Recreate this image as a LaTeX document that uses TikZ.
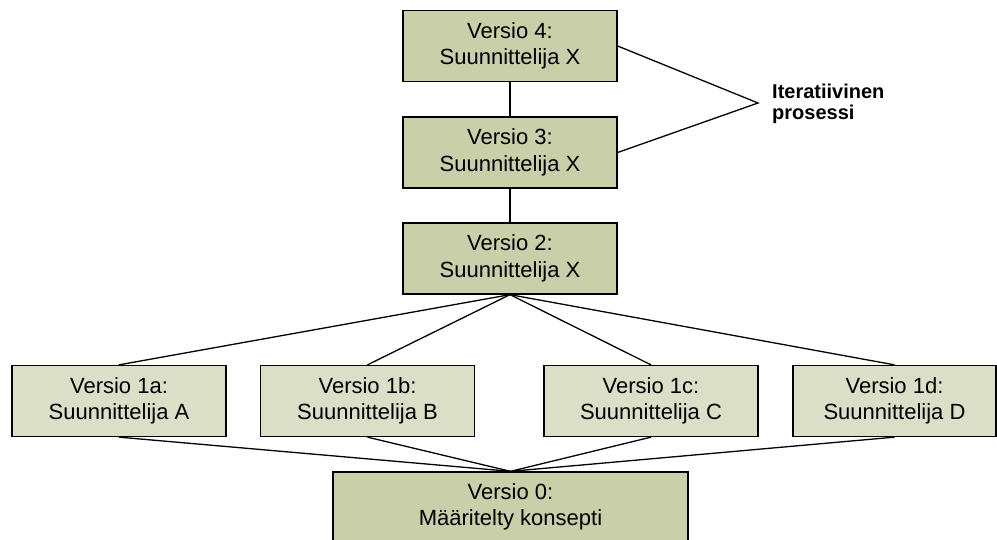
\documentclass[tikz,border=0pt]{standalone}
\usepackage{fontspec}
\setmainfont{Liberation Sans}
\definecolor{darkbox}{HTML}{C8CFA9}
\definecolor{lightbox}{HTML}{DCDFC7}
\begin{document}
\begin{tikzpicture}[x=1pt,y=-1pt,
  box/.style={draw=black,line width=1.3pt,align=center,inner sep=0pt,
    minimum width=214pt,minimum height=71pt,
    font=\fontsize{22}{26.5}\selectfont},
  darkb/.style={box,fill=darkbox},
  lightb/.style={box,fill=lightbox},
  conn/.style={draw=black,line width=1.3pt}]
\useasboundingbox (0,0) rectangle (997,540);
\fill[white] (0,0) rectangle (997,540);

\node[darkb] (v4) at (510,46) {Versio 4:\\Suunnittelija X};
\node[darkb] (v3) at (510,152.5) {Versio 3:\\Suunnittelija X};
\node[darkb] (v2) at (510,258.5) {Versio 2:\\Suunnittelija X};

\node[lightb] (v1a) at (119,401) {Versio 1a:\\Suunnittelija A};
\node[lightb] (v1b) at (367.5,401) {Versio 1b:\\Suunnittelija B};
\node[lightb] (v1c) at (651,401) {Versio 1c:\\Suunnittelija C};
\node[lightb,minimum width=203pt] (v1d) at (894.5,401) {Versio 1d:\\Suunnittelija D};

\node[darkb,minimum width=355pt,minimum height=70pt] (v0) at (510.5,507) {Versio 0:\\Määritelty konsepti};

\node[anchor=west,align=left,inner sep=0pt,font=\bfseries\fontsize{20}{21}\selectfont] (lab) at (772,104) {Iteratiivinen\\prosessi};
\coordinate (apex) at (758,103);

\draw[conn] (v4.south) -- (v3.north);
\draw[conn] (v3.south) -- (v2.north);
\foreach \n in {v1a,v1b,v1c,v1d}{
  \draw[conn] (v2.south) -- (\n.north);
  \draw[conn] (\n.south) -- (v0.north);
}
\draw[conn] (v4.east) -- (apex) -- (v3.east);
\end{tikzpicture}
\end{document}
